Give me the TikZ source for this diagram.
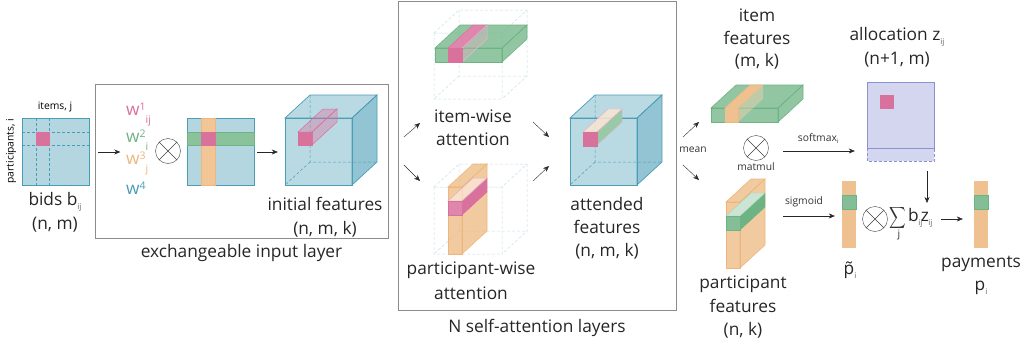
\documentclass[tikz,border=0pt]{standalone}
\usepackage{fontspec}
\setmainfont{Open Sans}
\usepackage{amsmath}
\usetikzlibrary{calc,positioning,arrows.meta}

\definecolor{tealc}{HTML}{4A9DB5}
\definecolor{pinkc}{HTML}{D9719D}
\definecolor{greenc}{HTML}{6DB383}
\definecolor{orangec}{HTML}{EDB67C}
\definecolor{lavc}{HTML}{8A92D2}
\definecolor{wirec}{HTML}{C4E0E6}

% low subscript and high superscript
\newcommand{\lsub}[1]{\raisebox{-4.5pt}{\fontsize{8}{8}\selectfont\color{black!60}#1}}
\newcommand{\wsym}[2]{w\raisebox{5pt}{\fontsize{10.5}{10.5}\selectfont #1}\raisebox{-8pt}{\fontsize{10.5}{10.5}\selectfont #2}}

% box in depth: [side options], x0, y0, x1, y1, style of its faces
\newcommand{\prism}[6][]{
  \path[#6] (#2,#3) -- ++(25,-23) -- ({#4+25},{#3-23}) -- (#4,#3) -- cycle;
  \path[#6, #1] (#4,#3) -- ++(25,-23) -- ({#4+25},{#5-23}) -- (#4,#5) -- cycle;
  \path[#6] (#2,#3) rectangle (#4,#5);
}
% hidden edges of a box in depth
\newcommand{\backedges}[5]{
  \path[#5] ({#1+25},{#2-23}) -- ({#1+25},{#4-23}) -- ({#3+25},{#4-23}) ({#1+25},{#4-23}) -- (#1,#4);
}

\begin{document}
\begin{tikzpicture}[x=1pt, y=-1pt, >={Stealth[length=6pt,width=5pt]},
    txt/.style={font=\fontsize{17.3}{17.3}\selectfont, inner sep=0pt, text=black!85},
    small/.style={font=\fontsize{10.3}{10.3}\selectfont, inner sep=0pt, text=black!80},
    layerbox/.style={draw=black!45, line width=0.7pt},
    arr/.style={->, line width=0.4pt, black!85},
    otimes/.style={circle, draw=black!75, line width=0.4pt, minimum size=25pt, inner sep=0pt},
    square/.style={rectangle, draw=#1, line width=0.7pt, minimum size=67pt, inner sep=0pt},
    dot/.style={rectangle, fill=pinkc, draw=pinkc, line width=0.4pt, minimum size=13.5pt, inner sep=0pt},
    tealface/.style={draw=tealc, line width=0.7pt, fill=tealc, fill opacity=0.42},
    tealhide/.style={draw=tealc, line width=0.5pt, densely dashed},
    wire/.style={draw=wirec, line width=0.5pt, densely dashed},
    greenface/.style={draw=greenc, line width=0.6pt, fill=greenc, fill opacity=0.75},
    orangeface/.style={draw=orangec, line width=0.6pt, fill=orangec, fill opacity=0.72},
    pinkface/.style={draw=pinkc, line width=0.5pt, fill=pinkc, fill opacity=0.4},
    paleface/.style={draw=pinkc!60, line width=0.5pt, fill=white, fill opacity=0.45}
  ]
    \useasboundingbox (0,0) rectangle (1024,348);

    % layer frames
    \node[layerbox, minimum width=293pt, minimum height=154pt, inner sep=0pt] (inputlayer) at (241.5,161) {};
    \node[layerbox, minimum width=278pt, minimum height=309pt, inner sep=0pt] (attlayer) at (537,155.5) {};
    \node[txt, below=15pt of inputlayer.south, anchor=center] (inputname) {exchangeable input layer};
    \node[txt, below=18pt of attlayer.south, anchor=center] (attname) {N self-attention layers};

    % bids
    \node[square=tealc, fill=tealc!42] (bids) at (55.5,151.5) {};
    \draw[tealc, line width=0.5pt, densely dashed] (36,118) -- (36,185) (49.5,118) -- (49.5,185) (22,132) -- (89,132) (22,145) -- (89,145);
    \node[dot] (bidcell) at (42.7,138.5) {};
    \node[small, text=black] (itemsname) at (55,107) {items, j};
    \node[small, text=black, rotate=90] (partname) at (11,151) {participants, i};
    \node[txt] (bidsname) at (55,202) {bids b\lsub{ij}};
    \node[txt] (bidsdim) at (55,225) {(n, m)};

    % weights
    \node[txt, text=pinkc, anchor=west] (w1) at (126,115) {\wsym{1}{ij}};
    \node[txt, text=greenc, anchor=west] (w2) at (126,140) {\wsym{2}{i}};
    \node[txt, text=orangec, anchor=west] (w3) at (126,163) {\wsym{3}{j}};
    \node[txt, text=tealc, anchor=west] (w4) at (126,188) {w\raisebox{5pt}{\fontsize{10.5}{10.5}\selectfont 4}};
    \node[otimes] (ox1) at (168,151) {};

    % weighted grid
    \node[square=tealc, fill=tealc!42] (grid) at (220.5,151.5) {};
    \node[rectangle, fill=orangec!80, draw=orangec, line width=0.5pt, minimum width=14pt, minimum height=67pt, inner sep=0pt] (gridcol) at (208,151.5) {};
    \node[rectangle, fill=greenc!80, draw=greenc, line width=0.5pt, minimum width=67pt, minimum height=13.5pt, inner sep=0pt] (gridrow) at (220.5,138.5) {};
    \node[dot] (gridcell) at (208,138.5) {};

    % initial features
    \backedges{285}{118}{352}{185}{tealhide}
    \prism[fill opacity=0.6]{285}{118}{352}{185}{tealface, fill opacity=0.38}
    \prism{298}{132}{312}{145}{pinkface}
    \node[dot] (initcell) at (305,138.5) {};
    \node[rectangle, minimum size=67pt, inner sep=0pt] (initf) at (318.5,151.5) {};
    \node[txt] (initname) at (325,204) {initial features};
    \node[txt] (initdim) at (325,229) {(n, m, k)};

    % item-wise attention
    \backedges{434}{33}{502}{99}{wire}
    \draw[wire] (434,33) -- ++(25,-23) -- (527,10) -- (502,33) -- cycle (527,10) -- (527,76) -- (502,99) (434,33) rectangle (502,99);
    \prism{435}{48}{502}{62}{greenface}
    \prism[draw=pinkc!50, fill=pinkc!60, fill opacity=0.35]{448}{48}{462}{62}{draw=pinkc, line width=0.5pt, fill=pinkc!85}
    \node[dot, minimum height=14pt] (itemcell) at (455,55) {};
    \node[txt] (itemname1) at (473,116) {item-wise};
    \node[txt, below=23pt of itemname1.center, anchor=center] (itemname2) {attention};

    % participant-wise attention
    \backedges{434}{187}{502}{254}{wire}
    \draw[wire] (434,187) -- ++(25,-23) -- (527,164) -- (502,187) -- cycle (527,164) -- (527,231) -- (502,254) (434,187) rectangle (502,254);
    \prism{448}{187}{462}{254}{orangeface}
    \path[fill=pinkc, draw=pinkc, line width=0.4pt] (462,201) -- (487,178) -- (487,192) -- (462,215) -- cycle;
    \path[paleface] (448,201) -- (473,178) -- (487,178) -- (462,201) -- cycle;
    \node[dot, minimum height=14pt, fill=pinkc!85] (partcell) at (455,208) {};
    \node[txt] (partwname1) at (471,270) {participant-wise};
    \node[txt, below=23pt of partwname1.center, anchor=center] (partwname2) {attention};

    % attended features
    \backedges{570}{118}{637}{185}{tealhide}
    \prism[fill opacity=0.6]{570}{118}{637}{185}{tealface, fill opacity=0.38}
    \path[fill=greenc!70, draw=pinkc!60, line width=0.4pt] (597,132) -- (622,109) -- (622,122) -- (597,145) -- cycle;
    \path[fill=orangec!35, fill opacity=0.85, draw=pinkc!60, line width=0.4pt] (583,132) -- (608,109) -- (622,109) -- (597,132) -- cycle;
    \node[dot, minimum height=14pt] (attcell) at (590,139) {};
    \node[txt] (attname1) at (607,204) {attended};
    \node[txt] (attname2) at (607,227) {features};
    \node[txt] (attdim) at (607,251) {(n, m, k)};

    % item features
    \prism{711}{108}{778}{122}{greenface}
    \prism[draw=none, fill=orangec!60, fill opacity=0.45]{725}{108}{738}{122}{draw=orangec, line width=0.5pt, fill=orangec!85}
    \node[rectangle, fill=orangec!85, minimum width=13pt, minimum height=14pt, inner sep=0pt] (itemfcell) at (731.5,115) {};
    \node[txt] (itemf1) at (757,15) {item};
    \node[txt] (itemf2) at (757,38) {features};
    \node[txt] (itemf3) at (757,61) {(m, k)};
    \node[otimes] (ox2) at (756,148) {};
    \node[small] (matname) at (756,167) {matmul};

    % participant features
    \prism{726}{202}{740}{268}{orangeface}
    \path[fill=greenc, draw=greenc, line width=0.4pt] (740,216) -- (765,193) -- (765,207) -- (740,230) -- cycle;
    \path[fill=greenc!35, draw=greenc!60, line width=0.4pt] (726,216) -- (751,193) -- (765,193) -- (740,216) -- cycle;
    \node[rectangle, fill=greenc!85, draw=greenc, line width=0.4pt, minimum width=14pt, minimum height=14pt, inner sep=0pt] (partfcell) at (733,223) {};
    \node[txt] (partf1) at (743,284) {participant};
    \node[txt] (partf2) at (743,306) {features};
    \node[txt] (partf3) at (743,330) {(n, k)};

    % allocation
    \node[rectangle, fill=lavc!38, minimum width=67pt, minimum height=79pt, inner sep=0pt] (alloc) at (900.5,121.5) {};
    \draw[lavc, line width=0.5pt] (alloc.south west |- 0,82) rectangle (alloc.east |- 0,148);
    \draw[lavc, line width=0.5pt, densely dashed] (alloc.west |- 0,148) -- (alloc.south west) -- (alloc.south east) -- (alloc.east |- 0,148);
    \node[dot, draw=none] (alloccell) at (887,102) {};
    \node[txt] (allocname) at (897,37) {allocation z\lsub{ij}};
    \node[txt] (allocdim) at (897,60) {(n+1, m)};

    % raw prices
    \node[rectangle, fill=orangec!85, minimum width=14pt, minimum height=67pt, inner sep=0pt] (ptilde) at (849,214.5) {};
    \node[rectangle, fill=greenc!85, draw=greenc, line width=0.4pt, minimum width=14pt, minimum height=14pt, inner sep=0pt] (ptcell) at (849,202) {};
    \node[txt] (ptname) at (850,270) {\~{p}\lsub{i}};

    % sum of bids times allocation
    \node[otimes] (ox3) at (875,219) {};
    \node[inner sep=0pt, text=black!80] (sumsign) at (898,218) {\scalebox{1.15}[1.5]{$\displaystyle\sum$}};
    \node[small, text=black!80] (sumj) at (899,235) {j};
    \node[txt, anchor=west] (sumterm) at (908,218) {b\kern-0.5pt\lsub{ij}\kern-1.5pt z\kern-0.5pt\lsub{ij}};

    % payments
    \node[rectangle, fill=orangec!85, minimum width=14pt, minimum height=67pt, inner sep=0pt] (pay) at (981,214.5) {};
    \node[rectangle, fill=greenc!85, draw=greenc, line width=0.4pt, minimum width=14pt, minimum height=14pt, inner sep=0pt] (paycell) at (981,202) {};
    \node[txt] (payname) at (981,264) {payments};
    \node[txt] (paydim) at (981,288) {p\lsub{i}};

    % crosses in the circles
    \foreach \n in {ox1,ox2,ox3} {
      \draw[black!75, line width=0.4pt] (\n.45) -- (\n.225) (\n.135) -- (\n.315);
    }

    % arrow ends between the stages
    \coordinate (initup) at (404,137);
    \coordinate (itemin) at (420,123);
    \coordinate (initdown) at (404,165);
    \coordinate (partin) at (420,181);
    \coordinate (itemout) at (533,122);
    \coordinate (attup) at (549,137);
    \coordinate (partout) at (533,181);
    \coordinate (attdown) at (549,166);
    \coordinate (meanup) at (683,137);
    \coordinate (itemfin) at (699,122);
    \coordinate (meandown) at (683,165);
    \coordinate (partfin) at (699,180);
    \coordinate (softstart) at (783,151);
    \coordinate (sigstart) at (783,216);
    \coordinate (allocout) at (927,171);
    \coordinate (sumin) at (927,203);
    \coordinate (sumout) at (941,219);

    % connectors
    \draw[arr, shorten <=9pt, shorten >=35pt] (bids.east |- 0,152) -- (ox1.west |- 0,152);
    \draw[arr, shorten <=3pt, shorten >=7pt] (grid.east |- 0,152) -- (initf.west |- 0,152);
    \draw[arr] (initup) -- (itemin);
    \draw[arr] (initdown) -- (partin);
    \draw[arr] (itemout) -- (attup);
    \draw[arr] (partout) -- (attdown);
    \draw[arr] (meanup) -- (itemfin);
    \draw[arr] (meandown) -- (partfin);
    \node[small] (meanname) at (693,150) {mean};
    \draw[arr, shorten >=12pt] (softstart) -- (alloc.west |- softstart) node[small, pos=0.42, above=7pt] (softname) {softmax\raisebox{-2pt}{\fontsize{6}{6}\selectfont i}};
    \draw[arr] (allocout) -- (sumin);
    \draw[arr, shorten >=7pt] (sigstart) -- (ptilde.west |- sigstart);
    \draw[arr, shorten >=11pt] (sumout) -- (pay.west |- sumout);
    \node[small] (signame) at (804,202) {sigmoid};
\end{tikzpicture}
\end{document}
